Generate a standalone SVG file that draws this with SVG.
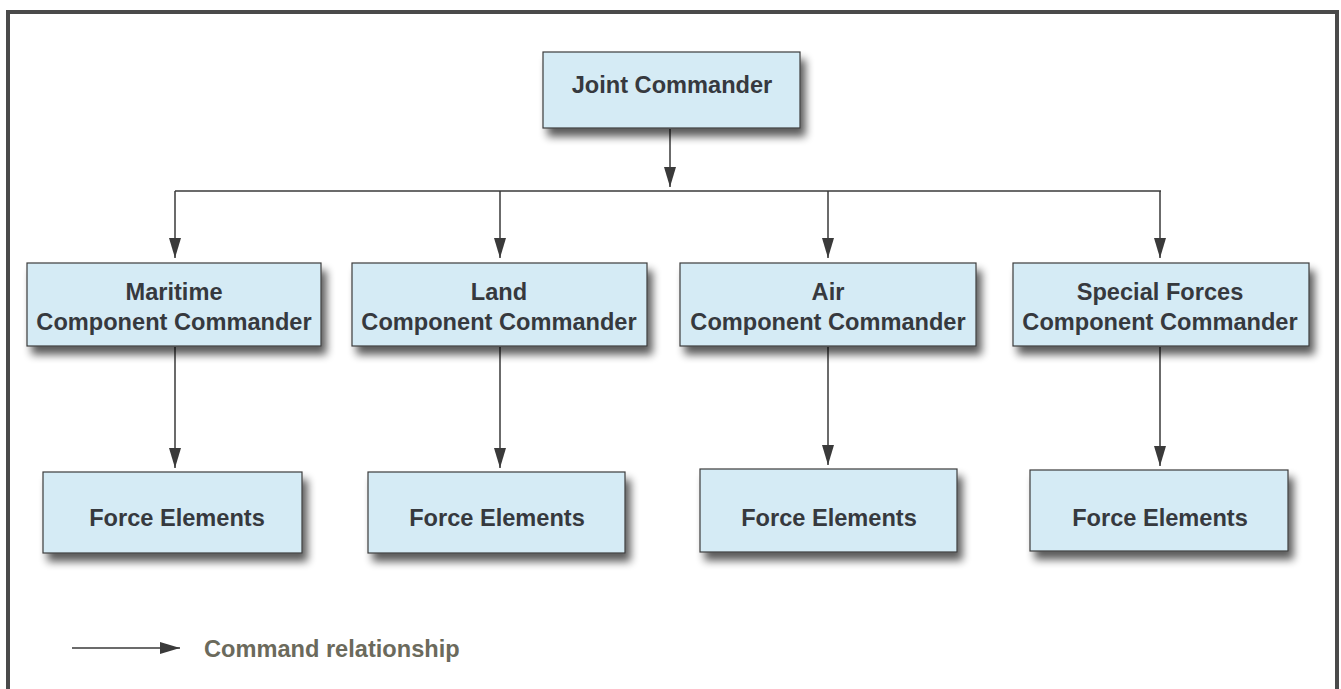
<svg xmlns="http://www.w3.org/2000/svg" width="1341" height="689" viewBox="0 0 1341 689">
  <defs>
    <filter id="shadow" x="-10%" y="-20%" width="130%" height="170%">
      <feGaussianBlur in="SourceAlpha" stdDeviation="4.5"/>
      <feOffset dx="5" dy="8" result="b"/>
      <feComponentTransfer><feFuncA type="linear" slope="0.65"/></feComponentTransfer>
      <feMerge><feMergeNode/><feMergeNode in="SourceGraphic"/></feMerge>
    </filter>
    <marker id="arrow" markerWidth="20" markerHeight="12" refX="20" refY="6" viewBox="0 0 20 12" markerUnits="userSpaceOnUse" orient="auto">
      <path d="M0,0 L20,6 L0,12 Z" fill="#3a3a3a"/>
    </marker>
    <style>
      .box { fill: #d5ebf5; stroke: #3c3c3c; stroke-width: 1.2; }
      .lbl { font-family: "Liberation Sans", Arial, sans-serif; font-weight: bold; font-size: 23.6px; fill: #36393e; text-anchor: middle; }
      .conn { stroke: #3a3a3a; stroke-width: 1.5; fill: none; }
      .legend { font-family: "Liberation Sans", Arial, sans-serif; font-weight: bold; font-size: 23.6px; fill: #6b6a5c; }
    </style>
  </defs>

  <rect x="0" y="0" width="1341" height="689" fill="#ffffff"/>
  <!-- outer frame -->
  <path d="M8,700 L8,12 L1337,12 L1337,700" fill="none" stroke="#4a4a4a" stroke-width="4"/>

  <g id="connectors">
    <line class="conn" x1="670" y1="129" x2="670" y2="187" marker-end="url(#arrow)"/>
    <line class="conn" x1="175" y1="191" x2="1161" y2="191"/>
    <line class="conn" x1="175" y1="191" x2="175" y2="258" marker-end="url(#arrow)"/>
    <line class="conn" x1="500" y1="191" x2="500" y2="258" marker-end="url(#arrow)"/>
    <line class="conn" x1="828" y1="191" x2="828" y2="258" marker-end="url(#arrow)"/>
    <line class="conn" x1="1160" y1="191" x2="1160" y2="258" marker-end="url(#arrow)"/>
    <line class="conn" x1="175" y1="347" x2="175" y2="468" marker-end="url(#arrow)"/>
    <line class="conn" x1="500" y1="347" x2="500" y2="468" marker-end="url(#arrow)"/>
    <line class="conn" x1="828" y1="347" x2="828" y2="465" marker-end="url(#arrow)"/>
    <line class="conn" x1="1160" y1="347" x2="1160" y2="466" marker-end="url(#arrow)"/>
  </g>

  <g id="joint-commander">
    <rect class="box" x="543" y="52" width="257" height="76" filter="url(#shadow)"/>
    <text class="lbl" x="672" y="93">Joint Commander</text>
  </g>

  <g id="maritime-cc">
    <rect class="box" x="27" y="263" width="294" height="83" filter="url(#shadow)"/>
    <text class="lbl" x="174" y="300">Maritime</text>
    <text class="lbl" x="174" y="330">Component Commander</text>
  </g>
  <g id="land-cc">
    <rect class="box" x="352" y="263" width="295" height="83" filter="url(#shadow)"/>
    <text class="lbl" x="499" y="300">Land</text>
    <text class="lbl" x="499" y="330">Component Commander</text>
  </g>
  <g id="air-cc">
    <rect class="box" x="680" y="263" width="296" height="83" filter="url(#shadow)"/>
    <text class="lbl" x="828" y="300">Air</text>
    <text class="lbl" x="828" y="330">Component Commander</text>
  </g>
  <g id="special-forces-cc">
    <rect class="box" x="1013" y="263" width="296" height="83" filter="url(#shadow)"/>
    <text class="lbl" x="1160" y="300">Special Forces</text>
    <text class="lbl" x="1160" y="330">Component Commander</text>
  </g>

  <g id="maritime-fe">
    <rect class="box" x="43" y="472" width="259" height="81" filter="url(#shadow)"/>
    <text class="lbl" x="177" y="526">Force Elements</text>
  </g>
  <g id="land-fe">
    <rect class="box" x="368" y="472" width="257" height="81" filter="url(#shadow)"/>
    <text class="lbl" x="497" y="526">Force Elements</text>
  </g>
  <g id="air-fe">
    <rect class="box" x="700" y="469" width="257" height="83" filter="url(#shadow)"/>
    <text class="lbl" x="829" y="526">Force Elements</text>
  </g>
  <g id="special-forces-fe">
    <rect class="box" x="1030" y="470" width="258" height="81" filter="url(#shadow)"/>
    <text class="lbl" x="1160" y="526">Force Elements</text>
  </g>

  <g id="legend">
    <line class="conn" x1="72" y1="648" x2="180" y2="648" marker-end="url(#arrow)"/>
    <text class="legend" x="204" y="657">Command relationship</text>
  </g>
</svg>
